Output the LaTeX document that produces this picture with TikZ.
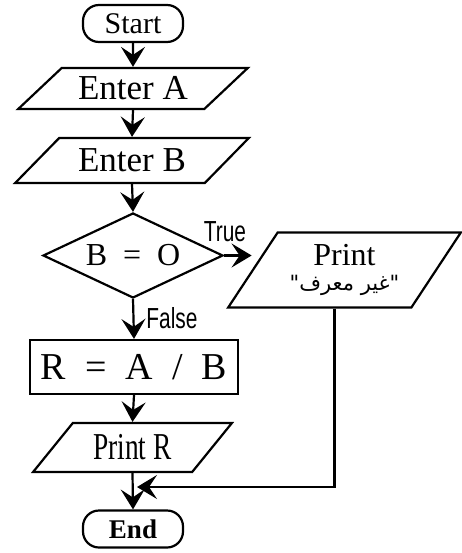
\documentclass[tikz,border=0pt]{standalone}
\usepackage{fontspec}
\setmainfont{Liberation Serif}
\newfontfamily\narrowsans[FakeStretch=0.72]{Liberation Sans}
\newfontfamily\narrowserif[FakeStretch=0.72]{Liberation Serif}
\newfontfamily\arabicfont[Script=Arabic]{DejaVu Sans}
\TeXXeTstate=1
\usepackage{tikz}
\usetikzlibrary{arrows.meta,shapes.geometric}
\newcommand{\lw}{2.2pt}
\newcommand{\fs}[1]{\fontsize{#1}{#1}\selectfont}

\begin{document}
\begin{tikzpicture}[x=1pt, y=-1pt,
  flowline/.style={line width=\lw, -{Stealth[length=20pt,width=24pt,inset=8pt]}},
  io/.style={draw, line width=\lw, trapezium, trapezium stretches=true, inner sep=0pt},
  terminal/.style={draw, line width=\lw, rectangle, rounded corners=16pt, minimum width=100pt, minimum height=37pt, inner sep=0pt},
  lbl/.style={inner sep=0pt, font=\narrowsans\fs{29}}]
\useasboundingbox (0,0) rectangle (461,553);
%start / input
\node[terminal] (start) at (133, 23.5) {\fs{30}Start};
\node[io, trapezium left angle=35, trapezium right angle=145, minimum width=230pt, minimum height=41pt] (entera) at (133, 88.5) {\fs{35}Enter A};
\node[io, trapezium left angle=35.5, trapezium right angle=144.5, minimum width=234pt, minimum height=45pt] (enterb) at (132, 160.5) {\fs{35}Enter B};
%decision
\node[draw, line width=\lw, diamond, aspect=2.1, minimum width=180pt, minimum height=85pt, inner sep=0pt] (check) at (133, 255.5) {\fs{32}B\hspace{0.5em}=\hspace{0.5em}O};
\node[io, trapezium left angle=52, trapezium right angle=128, minimum width=233pt, minimum height=75pt, align=center] (printmsg) at (344.5, 270) {\fs{32}Print\\[9pt]\arabicfont\fs{21}\beginR"غير معرف"\endR};
\node[lbl] (lbltrue) at (225, 232) {True};
\node[lbl] (lblfalse) at (172, 318) {False};
%process / output
\node[draw, line width=\lw, rectangle, minimum width=208pt, minimum height=54pt, inner sep=0pt] (divide) at (134, 367) {\fs{38}R\hspace{0.5em}=\hspace{0.5em}A\hspace{0.5em}/\hspace{0.5em}B};
\node[io, trapezium left angle=44.4, trapezium right angle=135.6, minimum width=199pt, minimum height=49pt] (printr) at (132.5, 447.5) {\narrowserif\fs{38}Print R};
\node[terminal] (finish) at (133, 529) {\bfseries\fs{27}End};
\coordinate (join) at (137, 487);
%arrows
\draw[flowline] (start.south) -- (entera.north);
\draw[flowline] (entera.south) -- (enterb.north);
\draw[flowline] (enterb.south) -- (check.north);
\draw[flowline] (check.east) -- (check.east -| printmsg.west);
\draw[flowline] (check.south) -- (divide.north);
\draw[flowline] (divide.south) -- (printr.north);
\draw[flowline] (printr.south) -- (finish.north);
\draw[flowline] ([xshift=-10pt]printmsg.south) |- (join);
\end{tikzpicture}
\end{document}
